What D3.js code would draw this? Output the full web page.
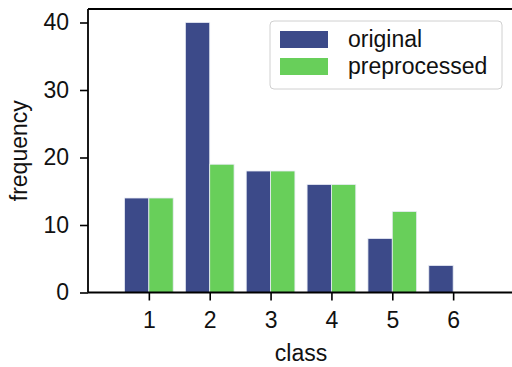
<!DOCTYPE html>
<html><head><meta charset="utf-8">
<script src="https://cdn.jsdelivr.net/npm/d3@7"></script>
<style>body{margin:0;background:#fff}svg{display:block;font-family:"Liberation Sans",Arial,sans-serif}</style>
</head><body>
<svg id="c" width="512" height="367"></svg>
<script>
const classes = [1, 2, 3, 4, 5, 6];
const original = [14, 40, 18, 16, 8, 4];
const preprocessed = [14, 19, 18, 16, 12, 0];
const yTicks = [0, 10, 20, 30, 40];
const seriesNames = ["original", "preprocessed"];
const colors = ["#3c4a89", "#68cf5a"];

const svg = d3.select("#c");
const L = 88, R = 514, T = 9, B = 292.5;
const x = d3.scaleLinear().domain([0, 7]).range([L, R]);
const y = d3.scaleLinear().domain([0, 42]).range([B, T]);
const bw = 0.4;
const fs = 23;
const ff = "Liberation Sans, Arial, sans-serif";

// bars
const series = [original, preprocessed];
series.forEach((vals, si) => {
  svg.append("g").selectAll("rect").data(classes.map((c, i) => ({c, v: vals[i]})).filter(d => d.v > 0))
    .join("rect")
    .attr("x", d => x(si === 0 ? d.c - bw : d.c))
    .attr("width", x(bw) - x(0))
    .attr("y", d => y(d.v))
    .attr("height", d => y(0) - y(d.v))
    .attr("fill", colors[si])
    .attr("stroke", "#e8ecf4").attr("stroke-width", 0.8);
});

// axes
const xAxis = d3.axisBottom(x).tickValues(classes).tickSize(8).tickPadding(11).tickFormat(d3.format("d"));
const gx = svg.append("g").attr("transform", `translate(0,${B})`).call(xAxis);
gx.attr("font-size", fs).attr("font-family", ff);
gx.select(".domain").remove();
gx.selectAll("line").attr("stroke", "#000").attr("stroke-width", 1.6);
gx.selectAll("text").attr("fill", "#111");

const yAxis = d3.axisLeft(y).tickValues(yTicks).tickSize(8).tickPadding(11);
const gy = svg.append("g").attr("transform", `translate(${L},0)`).call(yAxis);
gy.attr("font-size", fs).attr("font-family", ff);
gy.select(".domain").remove();
gy.selectAll("line").attr("stroke", "#000").attr("stroke-width", 1.6);
gy.selectAll("text").attr("fill", "#111");

// spines
const sp = svg.append("g").attr("stroke", "#000").attr("stroke-width", 1.8).attr("fill", "none");
sp.append("line").attr("x1", L).attr("x2", L).attr("y1", T).attr("y2", B);
sp.append("line").attr("x1", L).attr("x2", R).attr("y1", T).attr("y2", T);
sp.append("line").attr("x1", L).attr("x2", R).attr("y1", B).attr("y2", B);
sp.append("line").attr("x1", R).attr("x2", R).attr("y1", T).attr("y2", B);

// labels
svg.append("text").attr("x", 301).attr("y", 361).attr("text-anchor", "middle")
  .attr("font-size", fs).attr("fill", "#111").text("class");
svg.append("text").attr("transform", `translate(27,${(T+B)/2}) rotate(-90)`).attr("text-anchor", "middle")
  .attr("font-size", fs).attr("fill", "#111").text("frequency");

// legend
const lg = svg.append("g");
lg.append("rect").attr("x", 270).attr("y", 21).attr("width", 232).attr("height", 68).attr("rx", 4)
  .attr("fill", "#fff").attr("fill-opacity", 0.8).attr("stroke", "#d0d0d0").attr("stroke-width", 1);
seriesNames.forEach((n, i) => {
  lg.append("rect").attr("x", 280).attr("y", 31 + i * 27).attr("width", 48).attr("height", 17).attr("fill", colors[i]);
  lg.append("text").attr("x", 348).attr("y", 47 + i * 27).attr("font-size", fs).attr("fill", "#111").text(n);
});
</script>
</body></html>
